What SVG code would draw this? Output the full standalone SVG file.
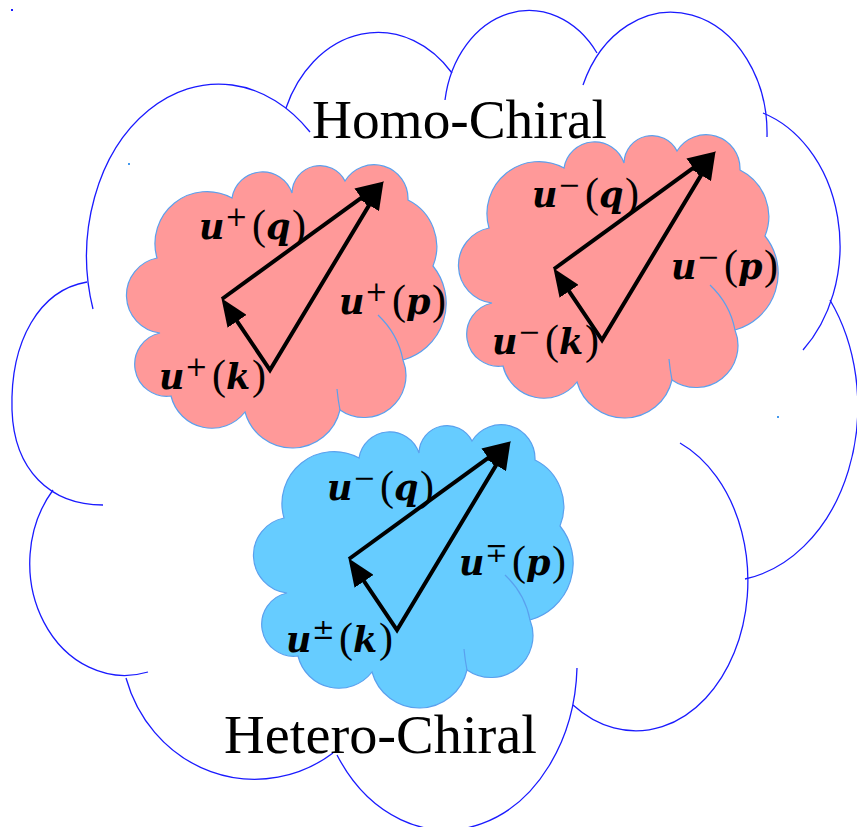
<svg xmlns="http://www.w3.org/2000/svg" xmlns:xlink="http://www.w3.org/1999/xlink" width="857" height="827" viewBox="0 0 857 827">
<style>
.outline{fill:none;stroke:#1a1aff;stroke-width:1.3}
.pink{fill:#ff9999;stroke:#5aa0ee;stroke-width:1.2}
.blue{fill:#66ccff;stroke:#5aa0ee;stroke-width:1.2}
.inner{fill:none;stroke:#5aa0ee;stroke-width:1.2}
.vec{fill:none;stroke:#000;stroke-width:4;stroke-linejoin:miter;stroke-miterlimit:10}
.m{font-family:"DejaVu Serif",serif;font-weight:bold;font-style:italic;font-size:35px}
.r{font-family:"Liberation Serif",serif;font-size:42px}
.s{font-family:"DejaVu Serif",serif;font-size:27px}
.title{font-family:"Liberation Serif",serif;font-size:55px;fill:#000}
.dot{fill:#4499ee}
</style>
<defs>
<marker id="ah" viewBox="0 0 28 23" refX="12" refY="11.5" markerWidth="28" markerHeight="23" markerUnits="userSpaceOnUse" orient="auto-start-reverse">
<path d="M0,0 L28,11.5 L0,23 Z" fill="#000"/>
</marker>
<g id="puff">
<path d="M232,198 A31,31 0 0 1 292,193 A28,28 0 0 1 345,181 A34,34 0 0 1 408,200 A52,52 0 0 1 433,266 A59,59 0 0 1 403,360 A42,42 0 0 1 340,410 A49,49 0 0 1 245,412 A42,42 0 0 1 171,396 A32,32 0 0 1 160,333 A38,38 0 0 1 157,258 A52,52 0 0 1 232,198 Z"/>
<path class="inner" d="M378,315 Q398,334 403,360 M337,389 Q338,400 340,410"/>
</g>
<g id="tri">
<path class="vec" d="M230.4,311.4 L270,370 L375.3,194.9" marker-start="url(#ah)" marker-end="url(#ah)"/>
<path class="vec" d="M222,299 L370.9,190.8" marker-end="url(#ah)"/>
</g>
</defs>
<rect width="857" height="827" fill="#fff"/>
<g id="outer-cloud" class="outline">
<path d="M93,309 A132,172 0 0 1 310,132"/>
<path d="M286,108 A100,124 0 0 1 452,73"/>
<path d="M445,100 A85,106 0 0 1 597,53"/>
<path d="M583,85 A96,121 0 0 1 767,137"/>
<path d="M763,113 A112,140 0 0 1 803,350"/>
<path d="M830,300 A135,175 0 0 1 745,579"/>
<path d="M680,443 A112,150 0 1 1 573,705"/>
<path d="M577,668 A131,168 0 0 1 337,755"/>
<path d="M126,678 A134,140 0 0 0 333,753"/>
<path d="M53,490 A95,112 0 0 0 148,672"/>
<path d="M87,282 C40,290 10,340 12,410 C14,470 50,505 103,505"/>
</g>
<g id="artifacts">
<rect x="11" y="9" width="2" height="2" fill="#1a1aff"/>
<rect class="dot" x="128" y="163" width="2" height="2"/>
<rect class="dot" x="256" y="424" width="2" height="2"/>
<rect class="dot" x="777" y="416" width="2" height="2"/>
</g>
<g id="homo-left">
<use xlink:href="#puff" class="pink"/>
<text><tspan class="m" x="199" y="239">u</tspan><tspan class="s" x="225" y="226">+</tspan><tspan class="r" x="252" y="239">(</tspan><tspan class="m" x="266" y="239">q</tspan><tspan class="r" x="292" y="239">)</tspan></text>
<text><tspan class="m" x="339" y="314">u</tspan><tspan class="s" x="365" y="301">+</tspan><tspan class="r" x="392" y="314">(</tspan><tspan class="m" x="406" y="314">p</tspan><tspan class="r" x="432" y="314">)</tspan></text>
<text><tspan class="m" x="159" y="389">u</tspan><tspan class="s" x="185" y="376">+</tspan><tspan class="r" x="212" y="389">(</tspan><tspan class="m" x="226" y="389">k</tspan><tspan class="r" x="252" y="389">)</tspan></text>
</g>
<g id="homo-right">
<use xlink:href="#puff" x="332" y="-30" class="pink"/>
<text><tspan class="m" x="532" y="207">u</tspan><tspan class="s" x="558" y="194">−</tspan><tspan class="r" x="585" y="207">(</tspan><tspan class="m" x="599" y="207">q</tspan><tspan class="r" x="625" y="207">)</tspan></text>
<text><tspan class="m" x="671" y="279">u</tspan><tspan class="s" x="697" y="266">−</tspan><tspan class="r" x="724" y="279">(</tspan><tspan class="m" x="738" y="279">p</tspan><tspan class="r" x="764" y="279">)</tspan></text>
<text><tspan class="m" x="492" y="354">u</tspan><tspan class="s" x="518" y="341">−</tspan><tspan class="r" x="545" y="354">(</tspan><tspan class="m" x="559" y="354">k</tspan><tspan class="r" x="585" y="354">)</tspan></text>
</g>
<g id="hetero">
<use xlink:href="#puff" x="127" y="260" class="blue"/>
<text><tspan class="m" x="327" y="500">u</tspan><tspan class="s" x="353" y="487">−</tspan><tspan class="r" x="380" y="500">(</tspan><tspan class="m" x="394" y="500">q</tspan><tspan class="r" x="420" y="500">)</tspan></text>
<text><tspan class="m" x="459" y="575">u</tspan><tspan class="s" x="485" y="562">∓</tspan><tspan class="r" x="512" y="575">(</tspan><tspan class="m" x="526" y="575">p</tspan><tspan class="r" x="552" y="575">)</tspan></text>
<text><tspan class="m" x="286" y="652">u</tspan><tspan class="s" x="312" y="639">±</tspan><tspan class="r" x="339" y="652">(</tspan><tspan class="m" x="353" y="652">k</tspan><tspan class="r" x="379" y="652">)</tspan></text>
</g>
<g id="connectors">
<use xlink:href="#tri"/>
<use xlink:href="#tri" x="332" y="-30"/>
<use xlink:href="#tri" x="127" y="260"/>
</g>
<g id="titles">
<text class="title" x="312" y="138" textLength="295" lengthAdjust="spacingAndGlyphs">Homo-Chiral</text>
<text class="title" x="224" y="753" textLength="313" lengthAdjust="spacingAndGlyphs">Hetero-Chiral</text>
</g>
</svg>
